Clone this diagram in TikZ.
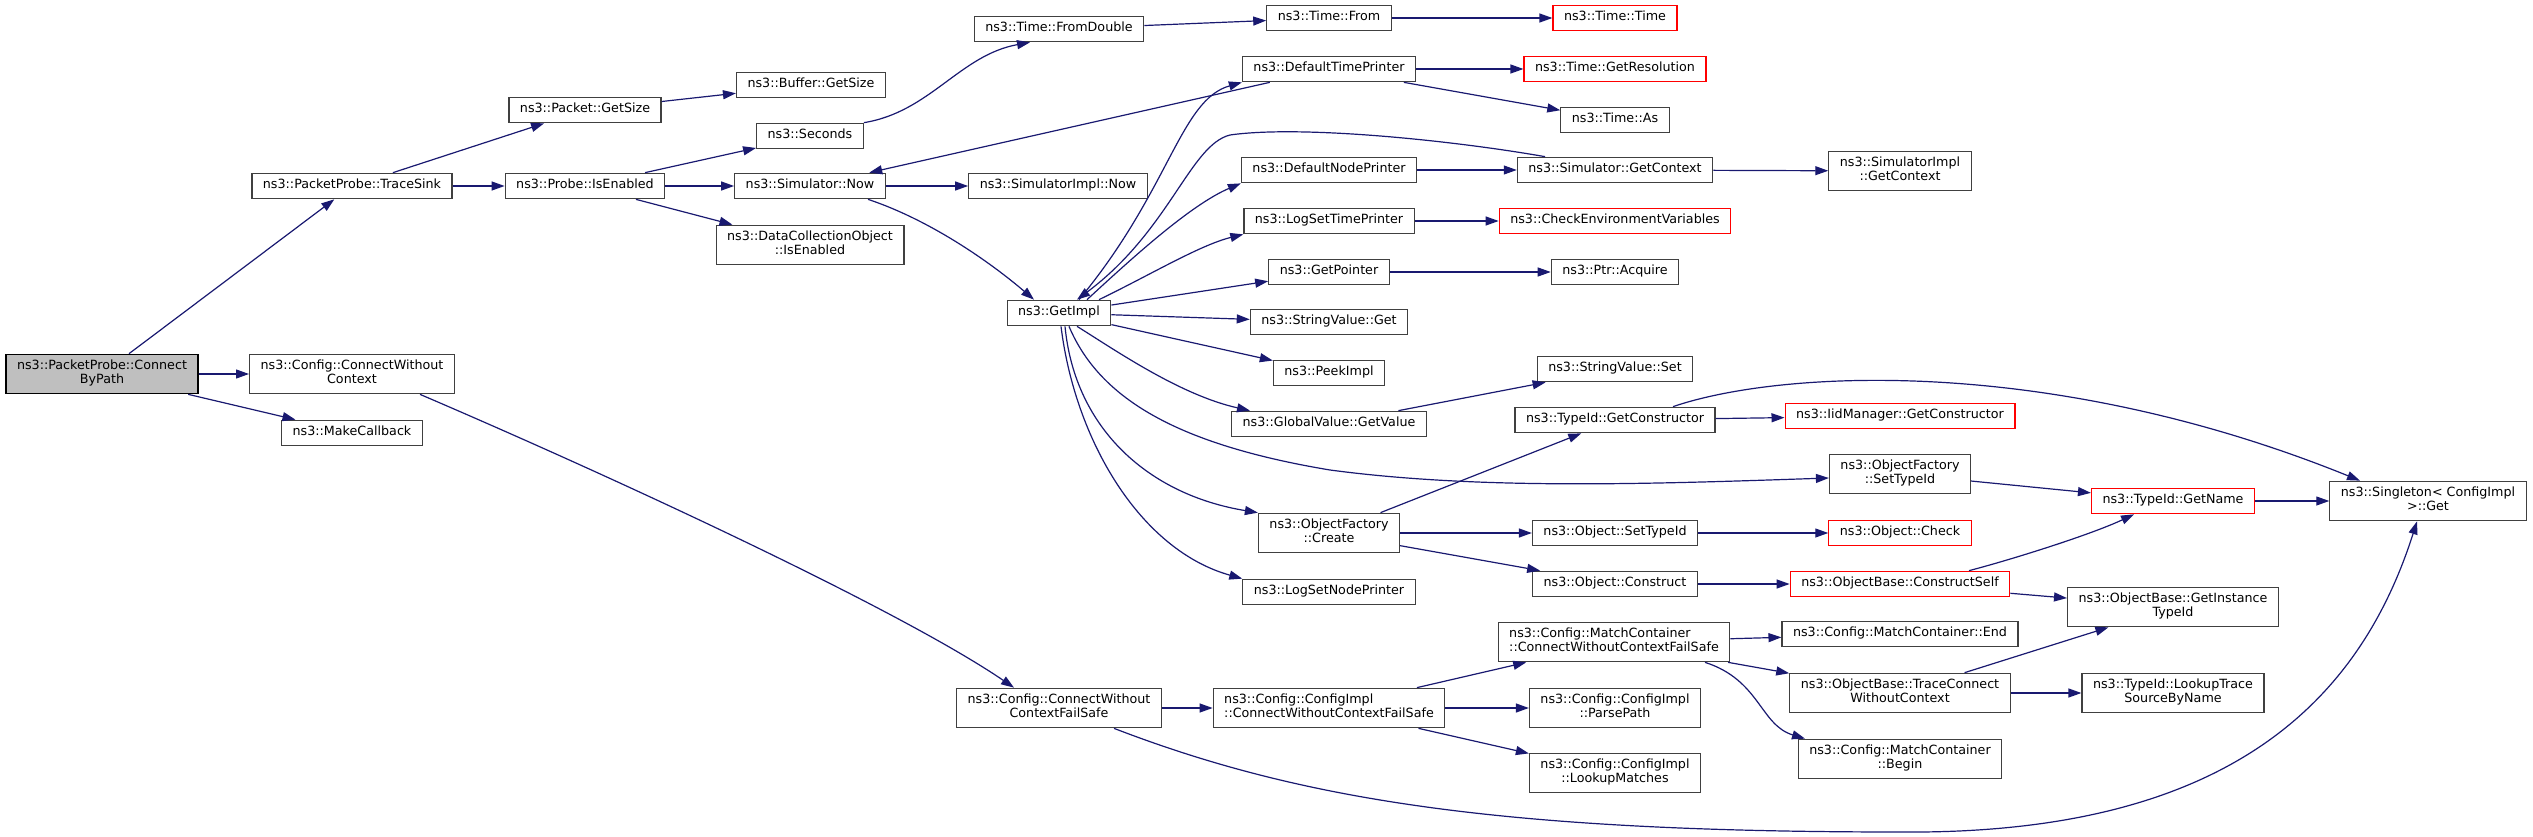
\documentclass[tikz,border=0pt]{standalone}
\usepackage{fontspec}
\setmainfont{DejaVu Sans}
\usepackage{tikz}
\usetikzlibrary{arrows.meta}
\definecolor{edgeblue}{HTML}{191970}
\definecolor{rootgray}{HTML}{BFBFBF}
\begin{document}
\begin{tikzpicture}[x=1pt,y=-1pt,
    func/.style={draw=black!75, line width=1.2pt, fill=white,
        font=\fontsize{12.7}{14.5}\selectfont, inner xsep=11pt, inner ysep=5.5pt,
        align=center, execute at begin node=\strut, execute at end node=\strut},
    funcred/.style={func, draw=red},
    funcroot/.style={func, draw=black, fill=rootgray},
    call/.style={draw=edgeblue, line width=1.2pt, -{Triangle[length=13pt,width=9pt]}}]
    \useasboundingbox (0,0) rectangle (2533,837);

    % Kolumna 1-2
    \node[funcroot] (cbp) at (102,374) {ns3::PacketProbe::Connect\\ByPath};
    \node[func] (tsink) at (352,186) {ns3::PacketProbe::TraceSink};
    \node[func] (cwc) at (352,374) {ns3::Config::ConnectWithout\\Context};
    \node[func] (mcb) at (352,433) {ns3::MakeCallback};

    % Kolumna 3-4
    \node[func] (pgs) at (585,110) {ns3::Packet::GetSize};
    \node[func] (pie) at (585,186) {ns3::Probe::IsEnabled};
    \node[func] (bgs) at (811,85) {ns3::Buffer::GetSize};
    \node[func] (sec) at (810,136) {ns3::Seconds};
    \node[func] (snow) at (810,186) {ns3::Simulator::Now};
    \node[func] (dco) at (810,245) {ns3::DataCollectionObject\\::IsEnabled};

    % Kolumna 5
    \node[func] (tfd) at (1059,29) {ns3::Time::FromDouble};
    \node[func] (simpl) at (1058,186) {ns3::SimulatorImpl::Now};
    \node[func] (gimpl) at (1059,313) {ns3::GetImpl};
    \node[func] (cwcfs) at (1059,708) {ns3::Config::ConnectWithout\\ContextFailSafe};

    % Kolumna 6
    \node[func] (tfrom) at (1329,18) {ns3::Time::From};
    \node[func] (dtp) at (1329,69) {ns3::DefaultTimePrinter};
    \node[func] (dnp) at (1329,170) {ns3::DefaultNodePrinter};
    \node[func] (lstp) at (1329,221) {ns3::LogSetTimePrinter};
    \node[func] (gptr) at (1329,272) {ns3::GetPointer};
    \node[func] (svget) at (1329,322) {ns3::StringValue::Get};
    \node[func] (peek) at (1329,373) {ns3::PeekImpl};
    \node[func] (gvget) at (1329,424) {ns3::GlobalValue::GetValue};
    \node[func] (ofcr) at (1329,533) {ns3::ObjectFactory\\::Create};
    \node[func] (lsnp) at (1329,592) {ns3::LogSetNodePrinter};
    \node[func, align=left] (cimpl) at (1329,708) {ns3::Config::ConfigImpl\\::ConnectWithoutContextFailSafe};

    % Kolumna 7
    \node[funcred] (ttime) at (1615,18) {ns3::Time::Time};
    \node[funcred] (tres) at (1615,69) {ns3::Time::GetResolution};
    \node[func] (tas) at (1615,120) {ns3::Time::As};
    \node[func] (sgc) at (1615,170) {ns3::Simulator::GetContext};
    \node[funcred] (cev) at (1615,221) {ns3::CheckEnvironmentVariables};
    \node[func] (pacq) at (1615,272) {ns3::Ptr::Acquire};
    \node[func] (svset) at (1615,369) {ns3::StringValue::Set};
    \node[func] (tgc) at (1615,420) {ns3::TypeId::GetConstructor};
    \node[func] (osti) at (1615,533) {ns3::Object::SetTypeId};
    \node[func] (ocon) at (1615,584) {ns3::Object::Construct};
    \node[func, align=left] (mccw) at (1614,642) {ns3::Config::MatchContainer\\::ConnectWithoutContextFailSafe};
    \node[func] (ppath) at (1615,708) {ns3::Config::ConfigImpl\\::ParsePath};
    \node[func] (lmatch) at (1615,773) {ns3::Config::ConfigImpl\\::LookupMatches};

    % Kolumna 8
    \node[func] (sigc) at (1900,171) {ns3::SimulatorImpl\\::GetContext};
    \node[funcred] (iidgc) at (1900,416) {ns3::IidManager::GetConstructor};
    \node[func] (ofst) at (1900,474) {ns3::ObjectFactory\\::SetTypeId};
    \node[funcred] (ochk) at (1900,533) {ns3::Object::Check};
    \node[funcred] (ocs) at (1900,584) {ns3::ObjectBase::ConstructSelf};
    \node[func] (mcend) at (1900,634) {ns3::Config::MatchContainer::End};
    \node[func] (otcw) at (1900,693) {ns3::ObjectBase::TraceConnect\\WithoutContext};
    \node[func] (mcbeg) at (1900,759) {ns3::Config::MatchContainer\\::Begin};

    % Kolumna 9-10
    \node[funcred] (tgn) at (2173,501) {ns3::TypeId::GetName};
    \node[func] (ogit) at (2173,607) {ns3::ObjectBase::GetInstance\\TypeId};
    \node[func] (tltr) at (2173,693) {ns3::TypeId::LookupTrace\\SourceByName};
    \node[func] (sing) at (2428,501) {ns3::Singleton< ConfigImpl\\>::Get};

    % Wywolania z ConnectByPath
    \draw[call] (cbp) -- (tsink);
    \draw[call] (cbp) -- (cwc);
    \draw[call] (cbp) -- (mcb);
    \draw[call] (tsink) -- (pgs);
    \draw[call] (tsink) -- (pie);
    \draw[call] (pgs) -- (bgs);
    \draw[call] (pie) -- (sec);
    \draw[call] (pie) -- (snow);
    \draw[call] (pie) -- (dco);
    \draw[call] (sec.north east) .. controls (930,112) and (960,55) .. ([xshift=-29pt]tfd.south);
    \draw[call] (tfd) -- (tfrom);
    \draw[call] (tfrom) -- (ttime);
    \draw[call] (snow) -- (simpl);
    \draw[call] ([xshift=58pt]snow.south) .. controls (930,220) and (990,262) .. ([xshift=-25pt]gimpl.north);

    % Wywolania z GetImpl
    \draw[call] (dtp) -- (snow);
    \draw[call] ([xshift=20pt]gimpl.north) .. controls (1170,190) and (1180,100) .. (dtp.south west);
    \draw[call] ([xshift=28pt]gimpl.north) .. controls (1130,260) and (1190,205) .. (dnp.south west);
    \draw[call] ([xshift=40pt]gimpl.north) .. controls (1150,275) and (1200,245) .. (lstp.south west);
    \draw[call] (gimpl) -- (gptr);
    \draw[call] (gimpl) -- (svget);
    \draw[call] (gimpl) -- (peek);
    \draw[call] ([xshift=18pt]gimpl.south) .. controls (1115,350) and (1180,395) .. ([xshift=-79pt]gvget.north);
    \draw[call] ([xshift=10pt]gimpl.south) .. controls (1100,400) and (1180,445) .. (1330,470)
        .. controls (1480,490) and (1650,484) .. ([yshift=-4pt]ofst.west);
    \draw[call] ([xshift=6pt]gimpl.south) .. controls (1075,430) and (1150,495) .. (ofcr.north west);
    \draw[call] ([xshift=2pt]gimpl.south) .. controls (1075,440) and (1140,550) .. (lsnp.north west);
    \draw[call] ([xshift=-70pt]sgc.north) .. controls (1450,140) and (1300,125) .. (1230,135)
        .. controls (1190,145) and (1170,230) .. ([xshift=18pt]gimpl.north);

    % Kolumna 6 dalej
    \draw[call] (dtp) -- (tres);
    \draw[call] (dtp) -- (tas);
    \draw[call] (dnp) -- (sgc);
    \draw[call] (sgc) -- (sigc);
    \draw[call] (lstp) -- (cev);
    \draw[call] (gptr) -- (pacq);
    \draw[call] (gvget) -- (svset);
    \draw[call] (ofcr) -- (tgc);
    \draw[call] (ofcr) -- (osti);
    \draw[call] (ofcr) -- (ocon);
    \draw[call] (tgc) -- (iidgc);
    \draw[call] ([xshift=58pt]tgc.north) .. controls (1780,370) and (2050,355) .. ([xshift=-68pt]sing.north);
    \draw[call] (ofst) -- (tgn);
    \draw[call] (osti) -- (ochk);
    \draw[call] (ocon) -- (ocs);
    \draw[call] ([xshift=69pt]ocs.north) .. controls (2010,560) and (2090,535) .. ([xshift=-39pt]tgn.south);
    \draw[call] (ocs) -- (ogit);
    \draw[call] (tgn) -- (sing);

    % Galaz Config
    \draw[call] ([xshift=68pt]cwc.south) .. controls (620,480) and (900,610) .. ([xshift=-45pt]cwcfs.north);
    \draw[call] (cwcfs) -- (cimpl);
    \draw[call] ([xshift=55pt]cwcfs.south) .. controls (1300,800) and (1500,832) .. (1900,832)
        .. controls (2230,835) and (2360,700) .. ([xshift=-11pt]sing.south);
    \draw[call] (cimpl) -- (mccw);
    \draw[call] (cimpl) -- (ppath);
    \draw[call] (cimpl) -- (lmatch);
    \draw[call] (mccw) -- (mcend);
    \draw[call] (mccw) -- (otcw);
    \draw[call] ([xshift=91pt]mccw.south) .. controls (1760,680) and (1760,725) .. ([xshift=-95pt]mcbeg.north);
    \draw[call] (otcw) -- (ogit);
    \draw[call] (otcw) -- (tltr);

\end{tikzpicture}
\end{document}
